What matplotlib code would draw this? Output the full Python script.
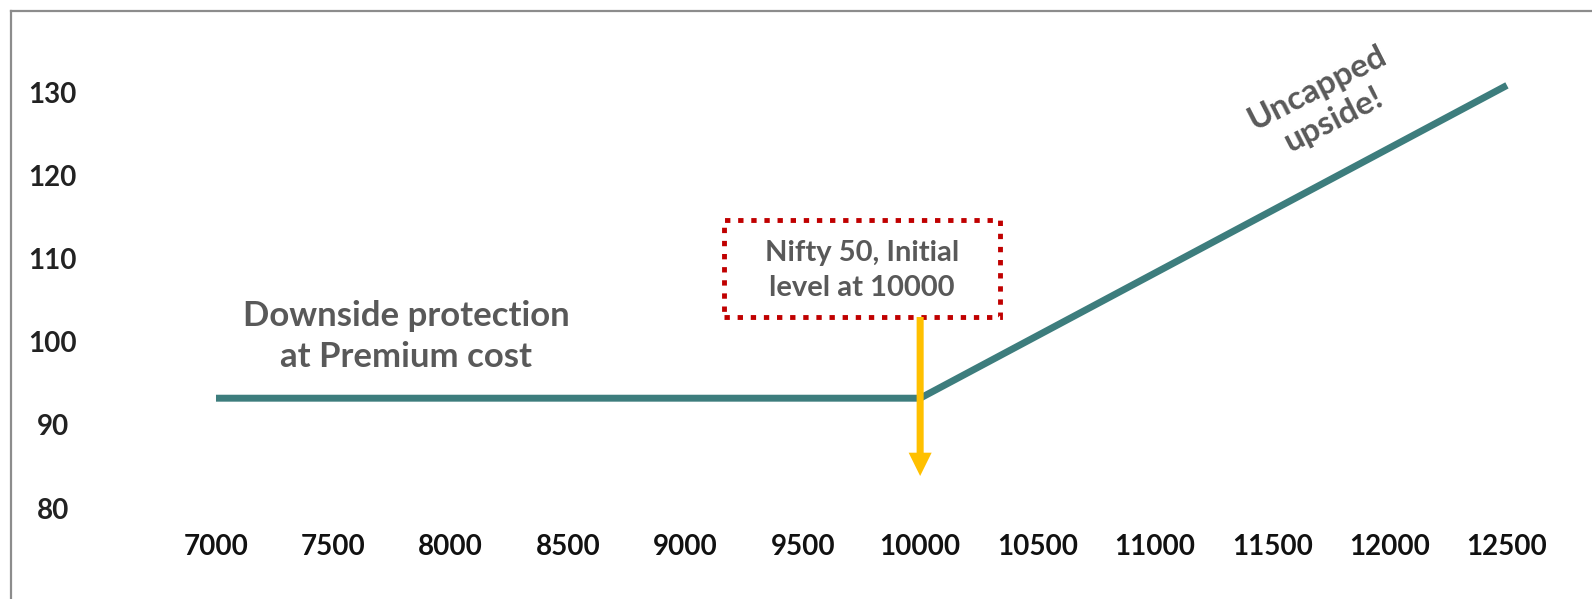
import matplotlib
matplotlib.use("Agg")
import matplotlib.pyplot as plt
from matplotlib.lines import Line2D
from matplotlib.patches import Rectangle

# Payoff del producto protegido frente al nivel del Nifty 50
niveles_nifty = [7000, 10000, 12500]
valor_producto = [93.2, 93.2, 130.8]

ticks_x = [7000, 7500, 8000, 8500, 9000, 9500, 10000, 10500, 11000, 11500, 12000, 12500]
ticks_y = [80, 90, 100, 110, 120, 130]

nivel_inicial = 10000

COLOR_LINEA = "#3D7D7D"
COLOR_TEXTO = "#595959"
COLOR_FLECHA = "#FFC000"
COLOR_CAJA = "#C00000"

plt.rcParams["font.family"] = ["Lato", "DejaVu Sans"]

fig = plt.figure(figsize=(15.92, 5.99), dpi=100)
ax = fig.add_axes([0.0767, 0.1241, 0.9141, 0.8056])

ax.plot(niveles_nifty, valor_producto, color=COLOR_LINEA, linewidth=5,
        solid_capstyle="butt", solid_joinstyle="miter", zorder=2)

ax.set_xlim(6600, 12800)
ax.set_ylim(78, 136)

ax.set_xticks(ticks_x)
ax.set_xticklabels([str(t) for t in ticks_x])
ax.set_yticks(ticks_y)
ax.set_yticklabels([str(t) for t in ticks_y])
ax.tick_params(axis="x", length=0, pad=7, labelsize=20, labelcolor="#111111")
ax.tick_params(axis="y", length=0, pad=50, labelsize=20, labelcolor="#222222")
for lbl in ax.get_xticklabels() + ax.get_yticklabels():
    lbl.set_fontweight("bold")
for lbl in ax.get_yticklabels():
    lbl.set_horizontalalignment("center")

for s in ax.spines.values():
    s.set_visible(False)

# Textos explicativos
ax.text(7810, 100.6, "Downside protection\nat Premium cost", ha="center", va="center",
        fontsize=25, fontweight="bold", color=COLOR_TEXTO, linespacing=1.32)

ax.text(11725, 128.6, "Uncapped\nupside!", ha="center", va="center", rotation=27,
        fontsize=24, fontweight="bold", color=COLOR_TEXTO, linespacing=1.3)

# Caja punteada con el nivel inicial
x0_caja, x1_caja = 9164, 10340
y0_caja, y1_caja = 102.96, 114.6
ax.add_patch(Rectangle((x0_caja, y0_caja), x1_caja - x0_caja, y1_caja - y0_caja,
                       fill=False, edgecolor=COLOR_CAJA, linewidth=3.5,
                       linestyle=(0, (1.1, 1.6)), zorder=3))
ax.text(9752, 108.5, "Nifty 50, Initial\nlevel at 10000",
        ha="center", va="center", fontsize=21, fontweight="bold",
        color=COLOR_TEXTO, linespacing=1.42, zorder=4)

# Flecha desde la caja hasta el nivel inicial
y_punta = 83.85
ax.arrow(nivel_inicial, y0_caja, 0, y_punta - y0_caja, width=30, head_width=98,
         head_length=2.8, length_includes_head=True, color=COLOR_FLECHA,
         linewidth=0, zorder=5)

# Marco gris de la diapositiva
fig.add_artist(Line2D([10.5 / 1592, 10.5 / 1592], [0, 1 - 11 / 599],
                      color="#8C8C8C", linewidth=1.6))
fig.add_artist(Line2D([10.5 / 1592, 1], [1 - 11 / 599, 1 - 11 / 599],
                      color="#8C8C8C", linewidth=1.6))

fig.savefig("out.png", dpi=100, facecolor="white")
